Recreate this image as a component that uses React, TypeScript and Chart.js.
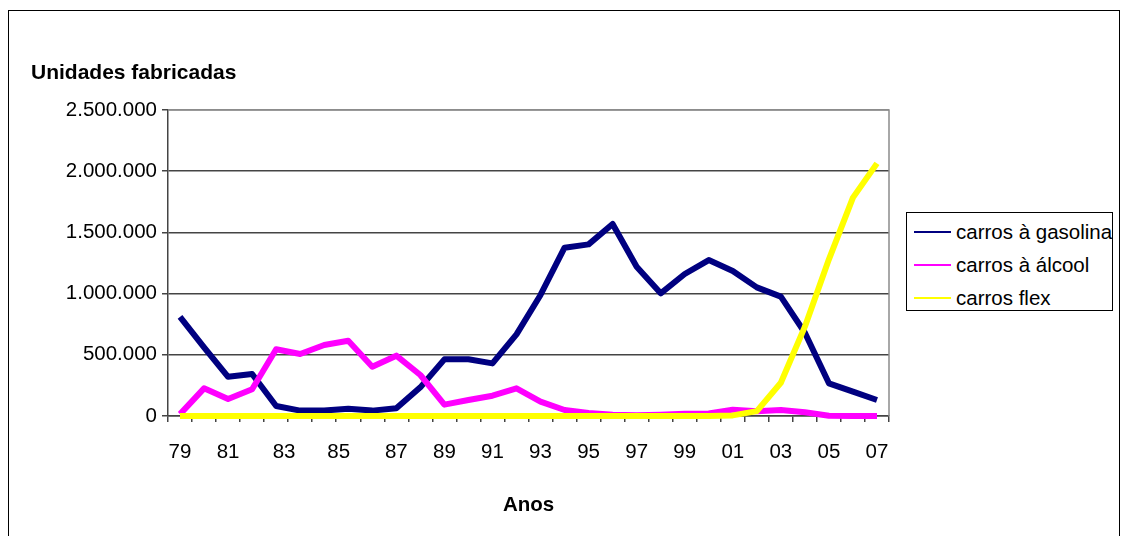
import React, { useEffect, useRef } from 'react';
import { Chart, registerables } from 'chart.js';

Chart.register(...registerables);

// 30 plotted points (hidden category names; the visible year labels are below)
const CATEGORIES = [
  'p01', 'p02', 'p03', 'p04', 'p05', 'p06', 'p07', 'p08', 'p09', 'p10',
  'p11', 'p12', 'p13', 'p14', 'p15', 'p16', 'p17', 'p18', 'p19', 'p20',
  'p21', 'p22', 'p23', 'p24', 'p25', 'p26', 'p27', 'p28', 'p29', 'p30',
];

const GASOLINA = [
  810000, 560000, 320000, 343000, 82000, 44000, 44000, 60000, 44000, 63000,
  234000, 463000, 463000, 430000, 667000, 989000, 1375000, 1402000, 1569000, 1220000,
  1002000, 1160000, 1274000, 1185000, 1051000, 975000, 680000, 267000, 199000, 131000,
];

const ALCOOL = [
  15000, 226000, 139000, 218000, 545000, 507000, 580000, 615000, 403000, 493000,
  335000, 93000, 131000, 166000, 226000, 117000, 49000, 25000, 10000, 6000,
  10000, 18000, 20000, 52000, 38000, 49000, 30000, 2000, 1000, 1000,
];

const FLEX = [
  0, 0, 0, 0, 0, 0, 0, 0, 0, 0,
  0, 0, 0, 0, 0, 0, 0, 0, 0, 0,
  0, 0, 0, 5000, 40000, 272000, 730000, 1280000, 1784000, 2064000,
];

const SERIES_LABELS = ['carros à gasolina', 'carros à álcool', 'carros flex'];
const SERIES_COLORS = ['#000080', '#FF00FF', '#FFFF00'];

const YEAR_LABELS = ['79', '81', '83', '85', '87', '89', '91', '93', '95', '97', '99', '01', '03', '05', '07'];
const YEAR_LABEL_POSITIONS = [0, 2, 4.33, 6.6, 9, 11, 13, 15, 17, 19, 21, 23, 25, 27, 29];

const Y_MAX = 2500000;
const Y_STEP = 500000;

const FONT = '"Liberation Sans", Arial, sans-serif';
const GRID = '#444444';
const BORDER_GRAY = '#8c8c8c';

const fmt = (v: number) => String(Math.round(v)).replace(/\B(?=(\d{3})+(?!\d))/g, '.');

const plotBorder = {
  id: 'plotBorder',
  beforeDatasetsDraw(chart: any) {
    const { ctx, chartArea: a } = chart;
    ctx.save();
    ctx.strokeStyle = BORDER_GRAY;
    ctx.lineWidth = 1.5;
    ctx.beginPath();
    ctx.moveTo(a.left, a.top);
    ctx.lineTo(a.right, a.top);
    ctx.lineTo(a.right, a.bottom);
    ctx.stroke();
    ctx.restore();
  },
};

export default function App() {
  const ref = useRef<HTMLCanvasElement>(null);

  useEffect(() => {
    if (!ref.current) return;
    Chart.defaults.font.family = FONT;
    Chart.defaults.color = '#000';
    const series = [GASOLINA, ALCOOL, FLEX];
    const chart = new Chart(ref.current, {
      type: 'line',
      data: {
        labels: CATEGORIES,
        datasets: series.map((d, i) => ({
          label: SERIES_LABELS[i],
          data: d,
          borderColor: SERIES_COLORS[i],
          backgroundColor: SERIES_COLORS[i],
          borderWidth: 6,
          pointRadius: 0,
          tension: 0,
          fill: false,
          clip: false,
          borderJoinStyle: 'round' as const,
          order: 3 - i,
        })),
      },
      options: {
        animation: false,
        responsive: false,
        maintainAspectRatio: false,
        layout: { padding: { left: 22, right: 230, top: 0, bottom: 18.4 } },
        plugins: {
          legend: { display: false },
          tooltip: { enabled: false },
          title: {
            display: true,
            text: 'Unidades fabricadas',
            align: 'start',
            color: '#000',
            font: { family: FONT, size: 21, weight: 'bold' },
            padding: { top: 49.4, bottom: 24.4 },
          },
        },
        scales: {
          x: {
            type: 'category',
            offset: true,
            weight: 0,
            grid: {
              display: true,
              offset: true,
              drawOnChartArea: false,
              drawTicks: true,
              tickLength: 6,
              color: GRID,
              lineWidth: 1.5,
            },
            border: { display: true, color: GRID, width: 1.5 },
            ticks: { display: false, autoSkip: false },
            afterFit: (s: any) => { s.height = 6; },
          },
          xl: {
            type: 'linear',
            position: 'bottom',
            weight: 1,
            min: -0.5,
            max: 29.5,
            grid: { display: false, drawTicks: false },
            border: { display: false },
            afterBuildTicks: (s: any) => {
              s.ticks = YEAR_LABEL_POSITIONS.map((v) => ({ value: v }));
            },
            ticks: {
              autoSkip: false,
              maxRotation: 0,
              minRotation: 0,
              padding: 17.7,
              color: '#000',
              font: { family: FONT, size: 20.5 },
              callback: (_v: any, i: number) => YEAR_LABELS[i],
            },
            title: {
              display: true,
              text: 'Anos',
              color: '#000',
              font: { family: FONT, size: 20.5, weight: 'bold' },
              padding: { top: 0, bottom: 0 },
            },
            afterFit: (s: any) => { s.height = 95.6; },
          },
          y: {
            min: 0,
            max: Y_MAX,
            grid: {
              color: (c: any) => (c.tick && c.tick.value === Y_MAX ? BORDER_GRAY : GRID),
              tickColor: GRID,
              lineWidth: 1.5,
              drawTicks: true,
              tickLength: 6,
            },
            border: { display: true, color: GRID, width: 1.5 },
            ticks: {
              stepSize: Y_STEP,
              padding: 5,
              color: '#000',
              font: { family: FONT, size: 20.5 },
              callback: (v: any) => fmt(Number(v)),
            },
            afterFit: (s: any) => { s.width = 137; },
          },
        },
      },
      plugins: [plotBorder],
    } as any);
    return () => chart.destroy();
  }, []);

  return (
    <>
      <div
        style={{
          position: 'absolute',
          left: 8,
          top: 10,
          width: 1112,
          height: 560,
          border: '1px solid #000',
          boxSizing: 'border-box',
          background: '#fff',
        }}
      />
      <canvas
        ref={ref}
        width={1110}
        height={525}
        style={{ position: 'absolute', left: 9, top: 11, width: 1110, height: 525 }}
      />
      <div
        style={{
          position: 'absolute',
          left: 906,
          top: 212,
          width: 207,
          height: 99,
          border: '1px solid #000',
          boxSizing: 'border-box',
          background: '#fff',
          fontFamily: FONT,
          fontSize: 20.5,
          color: '#000',
        }}
      >
        {SERIES_LABELS.map((lab, i) => (
          <div
            key={lab}
            style={{
              position: 'absolute',
              left: 7,
              top: 20 + 33 * i - 1 - 12,
              height: 24,
              display: 'flex',
              alignItems: 'center',
              whiteSpace: 'nowrap',
            }}
          >
            <span style={{ display: 'inline-block', width: 37, height: 2, background: SERIES_COLORS[i], marginRight: 5 }} />
            <span>{lab}</span>
          </div>
        ))}
      </div>
    </>
  );
}
